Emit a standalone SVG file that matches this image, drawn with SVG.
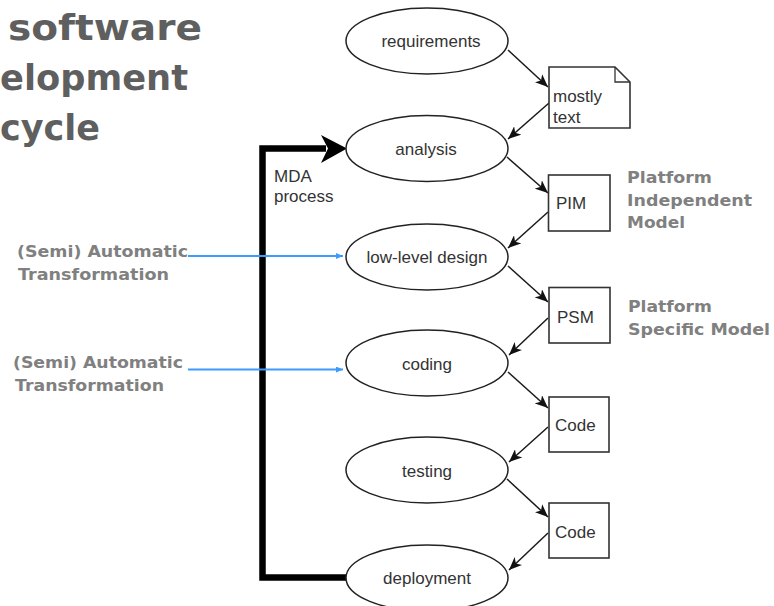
<svg xmlns="http://www.w3.org/2000/svg" width="774" height="606" viewBox="0 0 774 606">
  <style>
    .title { font-family: "DejaVu Sans", "Liberation Sans", sans-serif; font-weight: bold; font-size: 36px; fill: #5f5f5f; }
    .note { font-family: "DejaVu Sans", "Liberation Sans", sans-serif; font-weight: bold; font-size: 16.5px; fill: #808080; }
    .lbl { font-family: "Liberation Sans", Arial, sans-serif; font-size: 17px; fill: #333333; }
    .ell { fill: #ffffff; stroke: #222222; stroke-width: 1.5; }
    .box { fill: #ffffff; stroke: #333333; stroke-width: 1.6; }
    .flow { stroke: #1a1a1a; stroke-width: 1.5; fill: none; marker-end: url(#head); }
    .trans { stroke: #3d9bff; stroke-width: 2.2; fill: none; marker-end: url(#bhead); }
  </style>
  <defs>
    <marker id="head" markerUnits="userSpaceOnUse" markerWidth="14" markerHeight="11" refX="13" refY="5.5" orient="auto">
      <path d="M0,0 L13,5.5 L0,11 L3.5,5.5 z" fill="#111111"/>
    </marker>
    <marker id="bhead" markerUnits="userSpaceOnUse" markerWidth="8" markerHeight="6" refX="7" refY="3" orient="auto">
      <path d="M0,0 L7,3 L0,6 z" fill="#3d9bff"/>
    </marker>
  </defs>

  <rect width="774" height="606" fill="#ffffff"/>

  <!-- heading -->
  <g id="heading">
    <text class="title" x="8" y="40" textLength="194" lengthAdjust="spacingAndGlyphs">software</text>
    <text class="title" x="0" y="90" textLength="188" lengthAdjust="spacingAndGlyphs">elopment</text>
    <text class="title" x="0" y="140" textLength="100" lengthAdjust="spacingAndGlyphs">cycle</text>
  </g>

  <!-- side notes -->
  <g id="note-pim">
    <text class="note" x="627" y="183" textLength="85" lengthAdjust="spacingAndGlyphs">Platform</text>
    <text class="note" x="627" y="206" textLength="125" lengthAdjust="spacingAndGlyphs">Independent</text>
    <text class="note" x="627" y="228" textLength="58" lengthAdjust="spacingAndGlyphs">Model</text>
  </g>
  <g id="note-psm">
    <text class="note" x="628" y="312" textLength="84" lengthAdjust="spacingAndGlyphs">Platform</text>
    <text class="note" x="628" y="335" textLength="142" lengthAdjust="spacingAndGlyphs">Specific Model</text>
  </g>
  <g id="note-trans-1">
    <text class="note" x="17" y="257" textLength="171" lengthAdjust="spacingAndGlyphs">(Semi) Automatic</text>
    <text class="note" x="18" y="280" textLength="151" lengthAdjust="spacingAndGlyphs">Transformation</text>
  </g>
  <g id="note-trans-2">
    <text class="note" x="13" y="368" textLength="170" lengthAdjust="spacingAndGlyphs">(Semi) Automatic</text>
    <text class="note" x="15" y="391" textLength="149" lengthAdjust="spacingAndGlyphs">Transformation</text>
  </g>

  <!-- connectors -->
  <g id="connectors">
    <!-- MDA process feedback loop -->
    <path d="M347,577.5 H262.5 V148.5 H326" stroke="#000000" stroke-width="6.5" fill="none" stroke-linejoin="miter"/>
    <path d="M347,148.5 L321,135 L328,148.5 L321,163 z" fill="#000000"/>

    <line class="flow" x1="508" y1="50" x2="548" y2="87"/>
    <line class="flow" x1="549" y1="103" x2="508" y2="139"/>
    <line class="flow" x1="507" y1="157" x2="548" y2="193"/>
    <line class="flow" x1="548" y1="212" x2="508" y2="248"/>
    <line class="flow" x1="508" y1="266" x2="548" y2="302"/>
    <line class="flow" x1="548" y1="318" x2="509" y2="355"/>
    <line class="flow" x1="508" y1="372" x2="548" y2="408"/>
    <line class="flow" x1="548" y1="427" x2="509" y2="462"/>
    <line class="flow" x1="507" y1="479" x2="548" y2="517"/>
    <line class="flow" x1="548" y1="533" x2="509" y2="570"/>

    <line class="trans" x1="188" y1="256" x2="343" y2="256"/>
    <line class="trans" x1="188" y1="369.5" x2="343" y2="369.5"/>
  </g>

  <g id="mda-label">
    <text class="lbl" x="274" y="182">MDA</text>
    <text class="lbl" x="274" y="202">process</text>
  </g>

  <!-- activities -->
  <g id="requirements">
    <ellipse class="ell" cx="427" cy="41" rx="81" ry="33"/>
    <text class="lbl" x="431" y="47" text-anchor="middle">requirements</text>
  </g>
  <g id="analysis">
    <ellipse class="ell" cx="427" cy="148.5" rx="81" ry="33"/>
    <text class="lbl" x="426" y="155" text-anchor="middle">analysis</text>
  </g>
  <g id="low-level-design">
    <ellipse class="ell" cx="427" cy="257" rx="81" ry="33"/>
    <text class="lbl" x="427" y="263" text-anchor="middle">low-level design</text>
  </g>
  <g id="coding">
    <ellipse class="ell" cx="427" cy="363" rx="81" ry="33"/>
    <text class="lbl" x="427" y="370" text-anchor="middle">coding</text>
  </g>
  <g id="testing">
    <ellipse class="ell" cx="427" cy="470" rx="81" ry="33"/>
    <text class="lbl" x="427" y="477" text-anchor="middle">testing</text>
  </g>
  <g id="deployment">
    <ellipse class="ell" cx="427" cy="578" rx="81" ry="33"/>
    <text class="lbl" x="427" y="584" text-anchor="middle">deployment</text>
  </g>

  <!-- artefacts -->
  <g id="mostly-text">
    <path class="box" d="M549,67 H615 L630,82 V128 H549 z"/>
    <path d="M615,67 V82 H630" fill="none" stroke="#333333" stroke-width="1.3"/>
    <text class="lbl" x="553" y="102">mostly</text>
    <text class="lbl" x="553" y="123">text</text>
  </g>
  <g id="pim">
    <rect class="box" x="548.5" y="175" width="61.5" height="56"/>
    <text class="lbl" x="556" y="209">PIM</text>
  </g>
  <g id="psm">
    <rect class="box" x="549" y="287.5" width="61" height="55.5"/>
    <text class="lbl" x="557" y="323">PSM</text>
  </g>
  <g id="code-1">
    <rect class="box" x="549" y="397" width="60" height="55"/>
    <text class="lbl" x="555" y="431">Code</text>
  </g>
  <g id="code-2">
    <rect class="box" x="549" y="503" width="60" height="55"/>
    <text class="lbl" x="555" y="538">Code</text>
  </g>
</svg>
